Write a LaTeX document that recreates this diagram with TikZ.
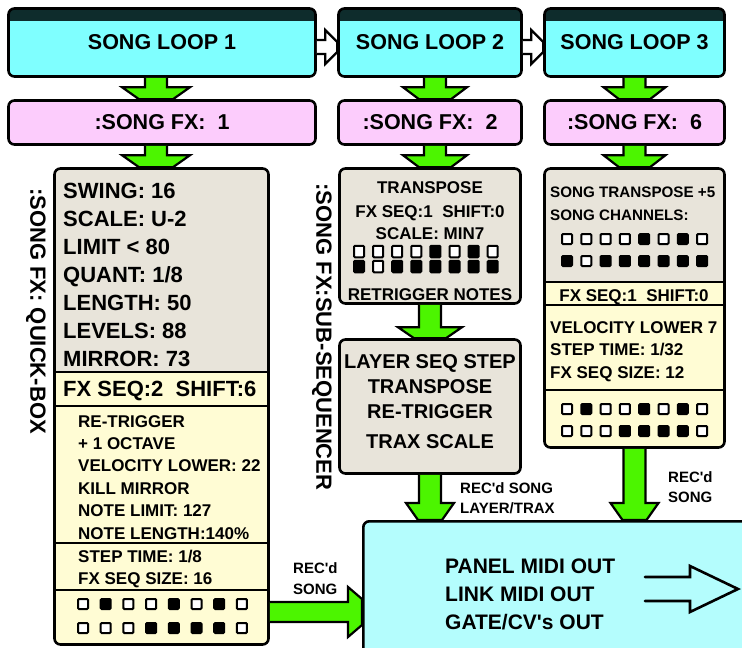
\documentclass[tikz,border=0pt]{standalone}
\usepackage{fontspec}
\setmainfont{Liberation Sans}
\usetikzlibrary{calc}

\definecolor{loopcyan}{HTML}{7FFFFF}
\definecolor{outcyan}{HTML}{B4FDFD}
\definecolor{fxpink}{HTML}{FCCCFC}
\definecolor{panelgray}{HTML}{E8E4DA}
\definecolor{seqyellow}{HTML}{FFFCD4}
\definecolor{fxgreen}{HTML}{4CF500}
\definecolor{bandc}{HTML}{0E2C2C}
\colorlet{X}{black}
\colorlet{O}{white}

\tikzset{
  boxline/.style={draw, line width=2.6pt, rounded corners=6pt},
  loopbox/.style={boxline, fill=loopcyan, minimum height=68pt, font=\bfseries\fontsize{21.5}{26}\selectfont,
    path picture={\fill[bandc, sharp corners] (path picture bounding box.north west) rectangle ([yshift=-12.5pt]path picture bounding box.north east);}},
  fxbox/.style={boxline, fill=fxpink, minimum height=44pt, font=\bfseries\fontsize{21.5}{26}\selectfont},
  panel/.style={boxline, fill=seqyellow},
  sepline/.style={line width=2.4pt},
  cell/.style={draw, line width=2pt, rounded corners=1pt, minimum width=10pt, minimum height=10pt, inner sep=0pt},
  tallcell/.style={cell, minimum height=11.5pt},
  txt/.style={font=\bfseries\fontsize{#1}{#1}\selectfont, inner sep=0pt},
  txt/.default=17,
  garrow/.style={draw, line width=2.2pt, fill=fxgreen, line join=miter},
  hollow/.style={draw, line width=2.2pt, fill=white, line join=miter}
}

% from, to, head half width, head length
\newcommand{\greendown}[4]{%
  \draw[garrow] let \p1=(#1), \p2=(#2) in
    (\x1-11pt,\y1) -- (\x1-11pt,\y2+#4pt) -- (\x1-#3pt,\y2+#4pt) -- (\x1-#3pt/2,\y2)
    -- (\x1+#3pt/2,\y2) -- (\x1+#3pt,\y2+#4pt) -- (\x1+11pt,\y2+#4pt) -- (\x1+11pt,\y1);}
\newcommand{\greenright}[2]{%
  \draw[garrow] let \p1=(#1), \p2=(#2) in
    (\x1,\y1+10pt) -- (\x2-14pt,\y1+10pt) -- (\x2-14pt,\y1+25pt) -- (\x2,\y1+13pt)
    -- (\x2,\y1-13pt) -- (\x2-14pt,\y1-25pt) -- (\x2-14pt,\y1-10pt) -- (\x1,\y1-10pt);}
\newcommand{\hollowright}[2]{%
  \draw[hollow] let \p1=(#1), \p2=(#2) in
    (\x1,\y1+2.5pt) -- (\x2-12pt,\y1+2.5pt) -- (\x2-12pt,\y1+12.5pt) -- (\x2,\y1+0.5pt)
    -- (\x2,\y1-9.5pt) -- (\x2-12pt,\y1-21.5pt) -- (\x2-12pt,\y1-11.5pt) -- (\x1,\y1-11.5pt);}
% style, name, first x, y, step, colours
\newcommand{\cellrow}[6]{%
  \foreach \c [count=\i] in {#6}
    \node[#1, fill=\c] (#2\i) at ({#3+(\i-1)*#5},#4) {};}

\begin{document}
\begin{tikzpicture}[x=1pt, y=-1pt]
\useasboundingbox (0,0) rectangle (742,648);

% Song loops
\node[loopbox, minimum width=307pt] (loop1) at (162,42.5) {SONG LOOP 1};
\node[loopbox, minimum width=183pt] (loop2) at (430,42.5) {SONG LOOP 2};
\node[loopbox, minimum width=180pt] (loop3) at (634.5,42.5) {SONG LOOP 3};

% Song FX
\node[fxbox, minimum width=307pt] (fx1) at (162,122.5) {:SONG FX:~~1};
\node[fxbox, minimum width=183pt] (fx2) at (430,122.5) {:SONG FX:~~2};
\node[fxbox, minimum width=180pt] (fx3) at (634.5,122.5) {:SONG FX:~~6};

% Quick-box
\node[panel, minimum width=214pt, minimum height=476pt, path picture={
    \fill[panelgray, sharp corners] (path picture bounding box.north west) rectangle ([yshift=-203.7pt]path picture bounding box.north east);
    \foreach \d in {203.7,237.7,374.7,421.7}
      \draw[sepline, sharp corners] ([yshift=-\d pt]path picture bounding box.north west) -- ++(220pt,0);
  }] (quick) at (161.5,406.5) {};
\foreach \t [count=\i] in {SWING: 16, SCALE: U-2, LIMIT < 80, QUANT: 1/8, LENGTH: 50, LEVELS: 88, MIRROR: 73}
  \node[txt=22, anchor=base west] (qk\i) at (63,170+28*\i) {\t};
\node[txt=22, anchor=base west] (qseq) at (63,396) {FX SEQ:2~~SHIFT:6};
\foreach \t [count=\i] in {RE-TRIGGER, + 1 OCTAVE, VELOCITY LOWER: 22, KILL MIRROR, NOTE LIMIT: 127, NOTE LENGTH:140\%}
  \node[txt, anchor=base west] (qfx\i) at (78,404.6+22.4*\i) {\t};
\node[txt, anchor=base west] (qstep) at (78,562) {STEP TIME: 1/8};
\node[txt, anchor=base west] (qsize) at (78,584) {FX SEQ SIZE: 16};
\cellrow{cell}{qa}{83}{604}{22.7}{O,X,O,O,X,O,X,O}
\cellrow{cell}{qb}{83}{628}{22.7}{O,O,O,X,X,X,X,O}
\node[txt=22, rotate=-90] (quicklbl) at (36,311) {:SONG FX: QUICK-BOX};

% Sub-sequencer
\node[panel, fill=panelgray, minimum width=181pt, minimum height=135pt] (trans) at (430,236) {};
\node[txt, anchor=base] (tr1) at (430,193) {TRANSPOSE};
\node[txt, anchor=base] (tr2) at (430,217) {FX SEQ:1~~SHIFT:0};
\node[txt, anchor=base] (tr3) at (430,239) {SCALE: MIN7};
\cellrow{tallcell}{ta}{359}{251.5}{19.1}{O,O,O,O,X,O,X,O}
\cellrow{tallcell}{tb}{359}{266.5}{19.1}{X,O,X,X,X,X,X,X}
\node[txt, anchor=base] (tr4) at (430,300) {RETRIGGER NOTES};
\node[panel, fill=panelgray, minimum width=181pt, minimum height=134pt] (layer) at (430,406.5) {};
\foreach \t/\y in {LAYER SEQ STEP/368, TRANSPOSE/393, RE-TRIGGER/418, TRAX SCALE/448}
  \node[txt=20, anchor=base] (ly\y) at (430,\y) {\t};
\node[txt=22, rotate=-90] (sublbl) at (322,337) {:SONG FX:SUB-SEQUENCER};

% Song channels
\node[panel, minimum width=180pt, minimum height=279pt, path picture={
    \fill[panelgray, sharp corners] (path picture bounding box.north west) rectangle ([yshift=-113.7pt]path picture bounding box.north east);
    \foreach \d in {113.7,136.7,221.7}
      \draw[sepline, sharp corners] ([yshift=-\d pt]path picture bounding box.north west) -- ++(200pt,0);
  }] (chan) at (634.5,308) {};
\node[txt=15.2, anchor=base west] (ch1) at (550,197) {SONG TRANSPOSE +5};
\node[txt=15.2, anchor=base west] (ch2) at (550,220) {SONG CHANNELS:};
\cellrow{cell}{ca}{567}{239}{19.3}{O,O,O,O,X,O,X,O}
\cellrow{cell}{cb}{567}{261}{19.3}{X,O,X,X,X,X,X,X}
\node[txt, anchor=base] (chseq) at (634,301) {FX SEQ:1~~SHIFT:0};
\foreach \t [count=\i] in {VELOCITY LOWER 7, STEP TIME: 1/32, FX SEQ SIZE: 12}
  \node[txt, anchor=base west] (chfx\i) at (550,310.5+22.5*\i) {\t};
\cellrow{cell}{cc}{567}{409}{19.3}{O,X,O,O,X,O,X,O}
\cellrow{cell}{cd}{567}{431}{19.3}{O,O,O,X,X,X,X,O}

% Output
\node[boxline, fill=outcyan, minimum width=420pt, minimum height=170pt] (out) at (573.3,606.3) {};
\node[txt=21, anchor=base west] (midi1) at (445,573) {PANEL MIDI OUT};
\node[txt=21, anchor=base west] (midi2) at (445,601) {LINK MIDI OUT};
\node[txt=21, anchor=base west] (midi3) at (445,629) {GATE/CV\textquotesingle s OUT};
\draw[line width=2.6pt, line cap=round, line join=miter] (645,577) -- (690,577) -- (690,566) -- (738,589) -- (690,612) -- (690,601) -- (645,601);

% Connectors
\hollowright{loop1.east}{loop2.west}
\hollowright{loop2.east}{loop3.west}
\greendown{$(loop1.south)+(-6,0)$}{fx1.north}{34}{12}
\greendown{$(loop2.south)+(5,0)$}{fx2.north}{32}{12}
\greendown{loop3.south}{fx3.north}{31}{12}
\greendown{$(fx1.south)+(-6,0)$}{quick.north}{34}{12}
\greendown{$(fx2.south)+(5,0)$}{trans.north}{32}{12}
\greendown{fx3.south}{chan.north}{31}{12}
\greendown{trans.south}{layer.north}{32}{11}
\greendown{layer.south}{out.north}{24}{17}
\greendown{chan.south}{out.north}{24}{17}
\coordinate (recL) at (quick.east |- 0,612);
\greenright{recL}{out.west}

% Labels
\node[txt=15, anchor=base west] (rec1a) at (460,493) {REC\textquotesingle d SONG};
\node[txt=15, anchor=base west] (rec1b) at (460,513) {LAYER/TRAX};
\node[txt=15, anchor=base west] (rec2a) at (668,482) {REC\textquotesingle d};
\node[txt=15, anchor=base west] (rec2b) at (668,502) {SONG};
\node[txt=15, anchor=base west] (rec3a) at (293,573) {REC\textquotesingle d};
\node[txt=15, anchor=base west] (rec3b) at (293,594) {SONG};
\end{tikzpicture}
\end{document}
